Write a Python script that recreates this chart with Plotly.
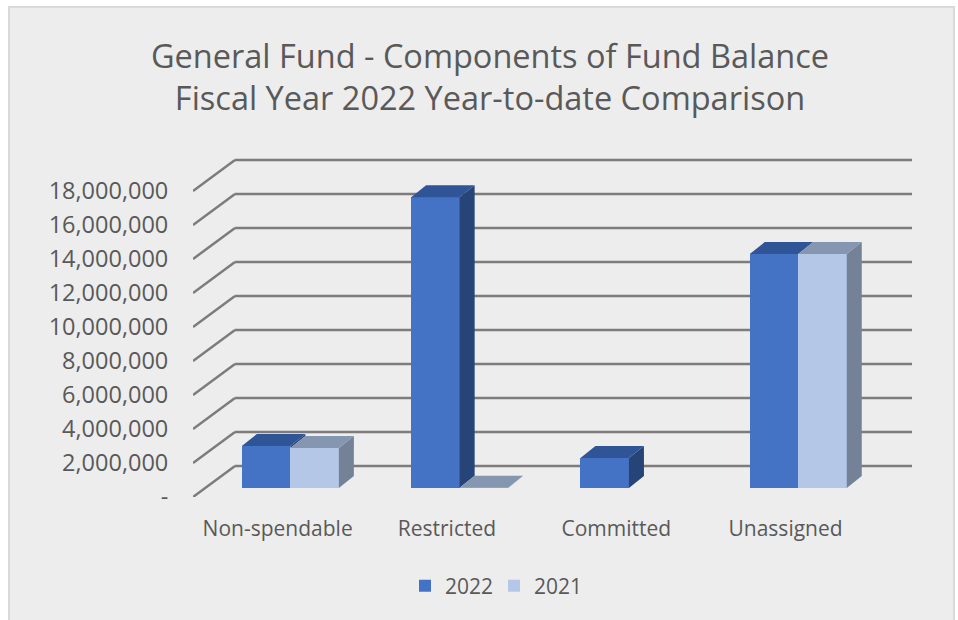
import plotly.graph_objects as go

categories = ["Non-spendable", "Restricted", "Committed", "Unassigned"]
values_2022 = [2470000, 17100000, 1760000, 13760000]
values_2021 = [2350000, 20000, None, 13760000]
tick_values = [0, 2000000, 4000000, 6000000, 8000000, 10000000, 12000000, 14000000, 16000000, 18000000]
tick_labels = ["-", "2,000,000", "4,000,000", "6,000,000", "8,000,000", "10,000,000",
               "12,000,000", "14,000,000", "16,000,000", "18,000,000"]

# Layout in pixels of the 958x620 page
W, H = 958, 620
PX_LEFT, PX_RIGHT, PX_TOP, PX_BOTTOM = 193, 912, 150, 497
BAND_PX = 169.3
M_PER_PX = 18000000 / (497 - 191)
WALL_DX, WALL_DY = 42, 31          # floor depth, px
BAR_IN_DX, BAR_IN_DY = 12.7, 9     # bar front inset from the front edge, px
BAR_DX, BAR_DY = 15, 12            # bar depth, px
BAR_W_PX = 48.5


def dx(px):
    return px / BAND_PX


def dy(px):
    return px * M_PER_PX


x_range = [-0.5, -0.5 + (PX_RIGHT - PX_LEFT) / BAND_PX]
y_range = [0, dy(PX_BOTTOM - PX_TOP)]

front_colors = {"2022": "#4472C4", "2021": "#B4C7E7"}
side_colors = {"2022": "#264478", "2021": "#748297"}
top_colors = {"2022": "#2F5597", "2021": "#8496B0"}

fig = go.Figure()
base = dy(BAR_IN_DY)
w = dx(BAR_W_PX)
xs = {
    "2022": [i + dx(BAR_IN_DX) - w / 2 for i in range(len(categories))],
    "2021": [i + dx(BAR_IN_DX) + w / 2 for i in range(len(categories))],
}
series = {"2022": values_2022, "2021": values_2021}

for name in series:
    fig.add_trace(go.Bar(
        name=name, x=xs[name], y=series[name], base=base, width=w,
        marker=dict(color=front_colors[name], line=dict(width=0)),
    ))


def poly(xv, yv, color):
    fig.add_trace(go.Scatter(
        x=xv, y=yv, mode="lines", fill="toself", fillcolor=color,
        line=dict(width=0, color=color), showlegend=False, hoverinfo="skip",
    ))


for name in series:
    for i, v in enumerate(series[name]):
        if v is None:
            continue
        cx = xs[name][i]
        left, right = cx - w / 2, cx + w / 2
        top = base + v
        # visible part of the side: hidden by the neighbouring series' front
        floor = base
        if name == "2022" and values_2021[i] is not None:
            floor = min(top, base + values_2021[i])
        if top > floor:
            poly([right, right + dx(BAR_DX), right + dx(BAR_DX), right, right],
                 [top, top + dy(BAR_DY), floor + dy(BAR_DY), floor, top],
                 side_colors[name])
        poly([left, left + dx(BAR_DX), right + dx(BAR_DX), right, left],
             [top, top + dy(BAR_DY), top + dy(BAR_DY), top, top],
             top_colors[name])

# Chart panel (below everything)
pw, ph = PX_RIGHT - PX_LEFT, PX_BOTTOM - PX_TOP
shapes = [dict(
    type="rect", xref="paper", yref="paper", layer="below",
    x0=(9 - PX_LEFT) / pw, x1=(954 - PX_LEFT) / pw,
    y0=(PX_BOTTOM - 624) / ph, y1=(PX_BOTTOM - 7) / ph,
    fillcolor="#EDEDED", line=dict(color="#D9D9D9", width=2),
)]
# Wall gridlines with their floor-side returns
for t in tick_values:
    x_front = -0.5
    x_back = -0.5 + dx(WALL_DX)
    shapes.append(dict(type="line", xref="x", yref="y", layer="below",
                       x0=x_front, y0=t, x1=x_back, y1=t + dy(WALL_DY),
                       line=dict(color="#7F7B7B", width=2.5)))
    shapes.append(dict(type="line", xref="x", yref="y", layer="below",
                       x0=x_back, y0=t + dy(WALL_DY), x1=x_range[1], y1=t + dy(WALL_DY),
                       line=dict(color="#7F7B7B", width=2.5)))

font = "Open Sans"
fig.update_layout(
    width=W, height=H,
    barmode="overlay", bargap=0,
    margin=dict(l=PX_LEFT, r=W - PX_RIGHT, t=PX_TOP, b=H - PX_BOTTOM, pad=0),
    paper_bgcolor="#FFFFFF",
    plot_bgcolor="rgba(0,0,0,0)",
    shapes=shapes,
    font=dict(family=font, color="#595959"),
    title=dict(
        text="General Fund - Components of Fund Balance<br>Fiscal Year 2022 Year-to-date Comparison",
        x=(490) / W, xanchor="center", y=1 - 67.5 / H, yanchor="middle",
        font=dict(size=32.5, family=font, color="#595959"),
    ),
    xaxis=dict(
        range=x_range, tickmode="array", tickvals=list(range(len(categories))),
        ticktext=categories, showgrid=False, zeroline=False, showline=False,
        ticks="outside", ticklen=13, tickcolor="rgba(0,0,0,0)",
        tickfont=dict(size=21, family=font, color="#595959"),
    ),
    yaxis=dict(
        range=y_range, tickmode="array", tickvals=tick_values, ticktext=tick_labels,
        showgrid=False, zeroline=False, showline=False,
        ticks="outside", ticklen=19, tickcolor="rgba(0,0,0,0)",
        tickfont=dict(size=23.5, family=font, color="#595959"),
    ),
    legend=dict(
        orientation="h", x=(494 - PX_LEFT) / pw, xanchor="center",
        y=(PX_BOTTOM - 586) / ph, yanchor="middle",
        font=dict(size=21, family=font, color="#595959"),
        bgcolor="rgba(0,0,0,0)", itemwidth=30,
        entrywidth=44, entrywidthmode="pixels",
        traceorder="normal",
    ),
)

fig.write_html("out.html", config={"displayModeBar": False},
               post_script="document.body.style.margin='0';")
